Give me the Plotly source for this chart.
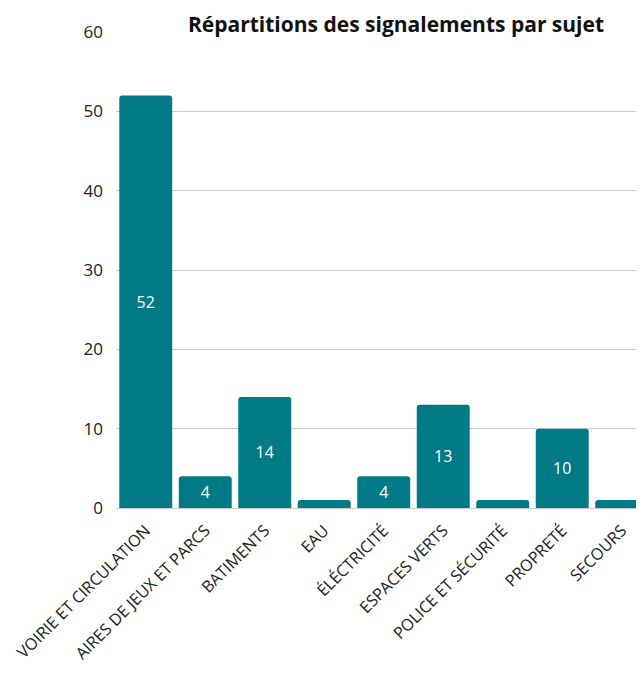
import plotly.graph_objects as go

categories = ["VOIRIE ET CIRCULATION", "AIRES DE JEUX ET PARCS", "BATIMENTS", "EAU",
              "ÉLÉCTRICITÉ", "ESPACES VERTS", "POLICE ET SÉCURITÉ", "PROPRETÉ", "SECOURS"]
values = [52, 4, 14, 1, 4, 13, 1, 10, 1]
labels = [str(v) if v > 1 else "" for v in values]
y_ticks = [0, 10, 20, 30, 40, 50, 60]

FONT = "Open Sans"
COLOR = "#007A87"

fig = go.Figure(go.Bar(
    x=categories, y=values, text=labels,
    textposition="inside", insidetextanchor="middle",
    textfont=dict(color="white", size=16, family=FONT),
    marker=dict(color=COLOR, line=dict(width=0)),
    hoverinfo="skip",
))

fig.update_layout(
    width=628, height=660,
    margin=dict(l=108, r=0, t=24, b=160),
    plot_bgcolor="white", paper_bgcolor="white",
    bargap=0.11, barcornerradius=3,
    showlegend=False,
    font=dict(family=FONT, color="#222", size=15),
    title=dict(text="<b>Répartitions des signalements par sujet</b>",
               x=388/628, xref="container", xanchor="center",
               y=1-17/660, yref="container", yanchor="middle",
               font=dict(size=21, color="#111", family=FONT)),
)
fig.update_xaxes(range=[-0.5, 8.24], tickangle=-45, showgrid=False, automargin=False,
                 tickfont=dict(size=16.2, color="#222"), ticks="", showline=False,
                 ticklabelstandoff=9)
fig.update_yaxes(range=[0, 60], tickvals=y_ticks, showgrid=True, gridcolor="#cccccc",
                 gridwidth=1, zeroline=True, zerolinecolor="#cccccc", zerolinewidth=1,
                 automargin=False,
                 tickfont=dict(size=17, color="#222"), ticklabelstandoff=12)

fig.write_html("out.html")
